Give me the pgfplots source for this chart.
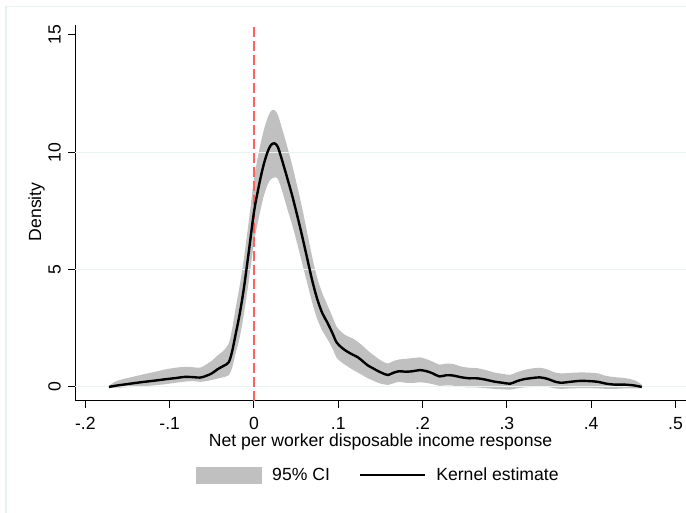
\documentclass[border=0pt]{standalone}
\usepackage{fontspec}
\setmainfont{Liberation Sans}
\usepackage{pgfplots}
\pgfplotsset{compat=1.18}
\usepackage{pgfplotstable}
\usepgfplotslibrary{fillbetween}
\definecolor{cigray}{RGB}{192,192,192}
\definecolor{refred}{RGB}{255,96,96}
\definecolor{gridcol}{RGB}{234,242,243}
\definecolor{framecol}{RGB}{232,240,242}

\pgfplotstableread{
x d up lo
-0.172 0.00 0.06 -0.04
-0.165 0.05 0.22 -0.03
-0.155 0.10 0.34 -0.02
-0.143 0.16 0.44 0.01
-0.130 0.22 0.55 0.04
-0.118 0.27 0.64 0.07
-0.105 0.33 0.75 0.12
-0.093 0.38 0.82 0.18
-0.082 0.43 0.86 0.23
-0.072 0.42 0.84 0.25
-0.064 0.40 0.82 0.22
-0.057 0.47 0.95 0.25
-0.050 0.58 1.12 0.30
-0.043 0.76 1.35 0.36
-0.036 0.90 1.55 0.42
-0.030 1.05 1.85 0.50
-0.026 1.50 2.45 0.80
-0.022 2.20 3.30 1.40
-0.017 3.10 4.30 2.10
-0.012 4.20 5.45 3.10
-0.006 5.80 7.10 4.55
0.000 7.45 8.85 6.15
0.006 8.60 10.05 7.25
0.011 9.40 10.85 8.05
0.016 10.00 11.45 8.60
0.020 10.30 11.75 8.85
0.024 10.38 11.80 8.92
0.028 10.25 11.62 8.88
0.033 9.70 11.05 8.40
0.039 8.96 10.30 7.65
0.045 8.20 9.50 6.95
0.051 7.35 8.60 6.15
0.057 6.45 7.65 5.30
0.063 5.50 6.60 4.45
0.069 4.55 5.55 3.60
0.075 3.75 4.65 2.90
0.081 3.15 4.00 2.40
0.087 2.75 3.50 2.05
0.093 2.30 3.00 1.65
0.098 1.90 2.57 1.25
0.104 1.68 2.33 1.05
0.110 1.52 2.18 0.90
0.117 1.38 2.07 0.74
0.123 1.27 1.93 0.62
0.129 1.10 1.75 0.50
0.135 0.92 1.55 0.37
0.141 0.80 1.38 0.28
0.147 0.68 1.22 0.18
0.153 0.58 1.08 0.12
0.159 0.51 1.00 0.09
0.165 0.60 1.10 0.15
0.172 0.67 1.17 0.22
0.180 0.65 1.20 0.18
0.188 0.67 1.23 0.17
0.197 0.72 1.26 0.20
0.205 0.67 1.18 0.17
0.212 0.58 1.08 0.12
0.220 0.45 0.95 0.05
0.228 0.50 1.00 0.07
0.236 0.49 0.98 0.06
0.245 0.42 0.88 0.01
0.255 0.37 0.82 -0.02
0.265 0.37 0.80 -0.02
0.275 0.31 0.72 -0.05
0.285 0.23 0.62 -0.08
0.295 0.18 0.56 -0.10
0.304 0.14 0.52 -0.11
0.312 0.25 0.63 -0.06
0.320 0.33 0.72 -0.02
0.330 0.38 0.79 0.00
0.339 0.41 0.82 0.02
0.348 0.35 0.75 0.00
0.356 0.24 0.63 -0.05
0.364 0.18 0.58 -0.08
0.375 0.22 0.60 -0.06
0.387 0.26 0.62 -0.05
0.398 0.25 0.61 -0.05
0.408 0.22 0.58 -0.06
0.418 0.14 0.47 -0.08
0.428 0.10 0.42 -0.08
0.440 0.10 0.38 -0.06
0.452 0.06 0.28 -0.06
0.460 0.00 0.10 -0.05
}\kdens

\begin{document}
\begin{tikzpicture}
\draw[framecol, line width=0.9pt] (4.5pt,0pt) -- (4.5pt,379.9pt) -- (514.5pt,379.9pt);
\begin{axis}[
  at={(56.25pt,84pt)}, anchor=south west,
  scale only axis, width=458.25pt, height=282pt,
  xmin=-0.2123, xmax=0.5125, ymin=-0.5965, ymax=15.42,
  axis x line*=bottom, axis y line*=left,
  axis line style={-, line width=0.75pt, black},
  xtick={-0.2,-0.1,0,0.1,0.2,0.3,0.4,0.5},
  xticklabels={-.2,-.1,0,.1,.2,.3,.4,.5},
  ytick={0,5,10,15}, yticklabels={0,5,10,15},
  tick align=outside, major tick length=5.25pt,
  tick style={line width=0.75pt, black},
  minor tick num=0,
  tick label style={font=\fontsize{13.2}{15}\selectfont},
  xticklabel style={anchor=north, inner sep=0pt},
  xticklabel shift=6.5pt,
  yticklabel style={rotate=90, anchor=south, inner sep=0pt},
  yticklabel shift=5.25pt,
  xlabel={Net per worker disposable income response},
  ylabel={Density},
  label style={font=\fontsize{13.2}{15}\selectfont},
  xlabel style={at={(axis description cs:0.5,-0.1215)}, anchor=base},
  ylabel style={at={(axis description cs:-0.0556,0.503)}, anchor=base},
  legend columns=2,
  legend style={at={(axis description cs:0.495,-0.1747)}, anchor=north,
    draw=none, fill=none, inner sep=0pt, outer sep=0pt,
    column sep=7.5pt, /tikz/every even column/.append style={column sep=21.75pt},
    nodes={inner sep=0pt}, font=\fontsize{13.2}{15}\selectfont},
]
\addplot[gridcol, line width=0.75pt, forget plot] coordinates {(-0.2123,0) (0.5125,0)};
\addplot[gridcol, line width=0.75pt, forget plot] coordinates {(-0.2123,5) (0.5125,5)};
\addplot[gridcol, line width=0.75pt, forget plot] coordinates {(-0.2123,10) (0.5125,10)};
\addplot[name path=up, draw=none, forget plot, smooth] table[x=x, y=up] {\kdens};
\addplot[name path=lo, draw=none, forget plot, smooth] table[x=x, y=lo] {\kdens};
\addplot[cigray, draw=none,
  legend image code/.code={\fill[cigray] (0pt,-6.375pt) rectangle (49.5pt,6.375pt);}]
  fill between[of=up and lo];
\addlegendentry{95\% CI}
\addplot[refred, line width=1.1pt, dash pattern=on 7.5pt off 3pt, forget plot]
  coordinates {(0,-0.5965) (0,15.42)};
\addplot[black, line width=1.8pt, smooth,
  legend image code/.code={\draw[black, line width=1.8pt] (0pt,0pt) -- (48.75pt,0pt);}]
  table[x=x, y=d] {\kdens};
\addlegendentry{Kernel estimate}
\end{axis}
\pgfresetboundingbox
\useasboundingbox (0pt,0pt) rectangle (514.5pt,384.75pt);
\end{tikzpicture}
\end{document}
